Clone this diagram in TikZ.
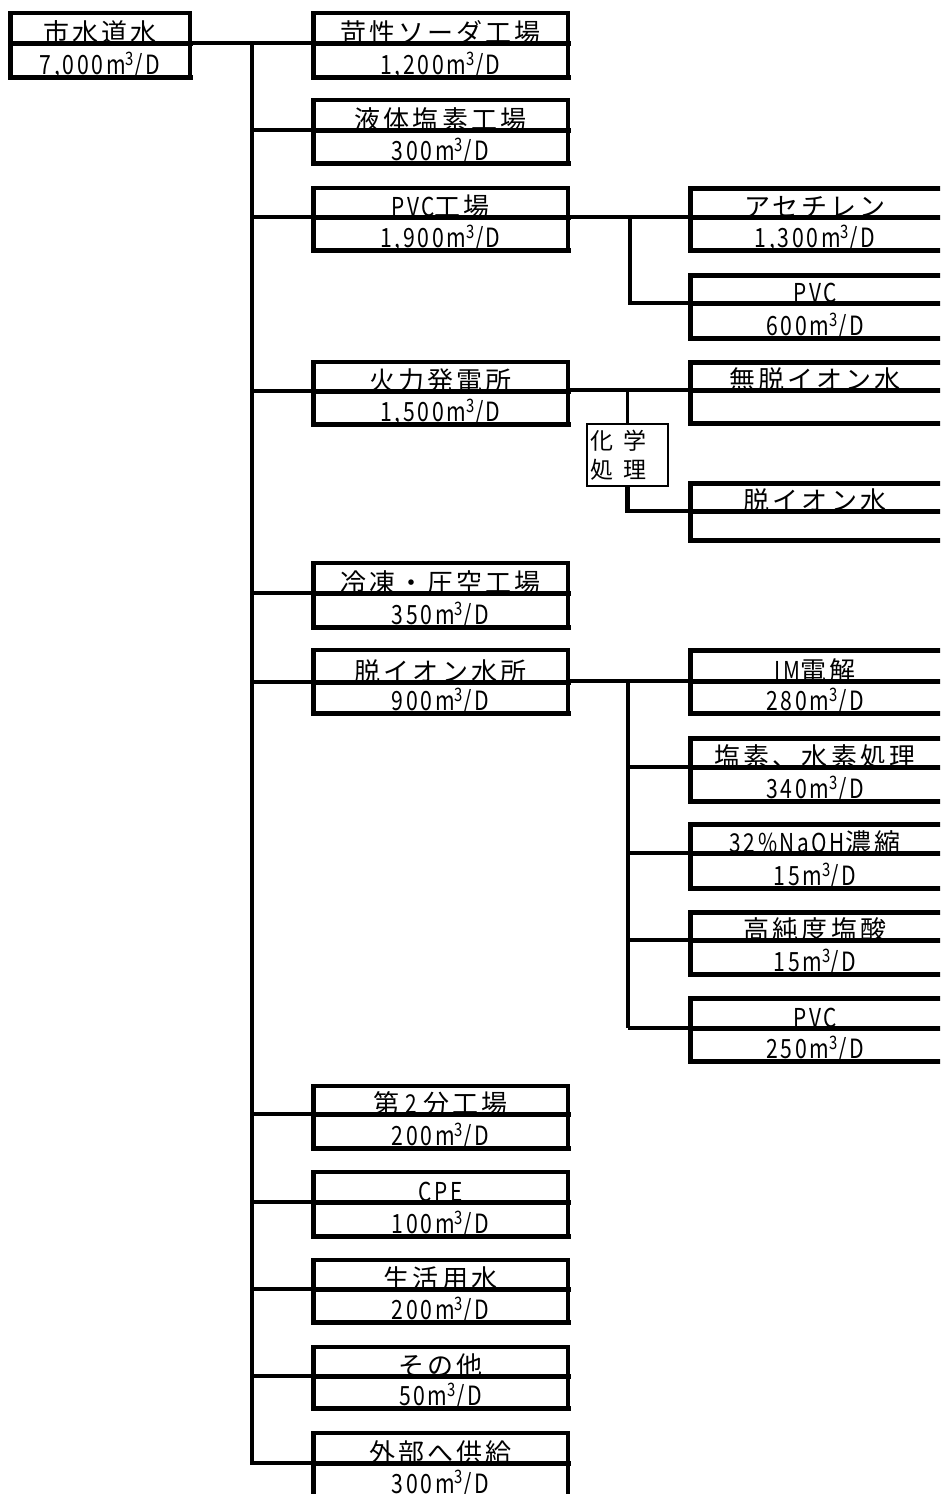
\documentclass[tikz,border=0pt]{standalone}
\usepackage{fontspec}
\newfontfamily\jpfont{Noto Sans CJK JP}[LetterSpace=12]
\newfontfamily\nmfont{Noto Sans CJK JP}[LetterSpace=10,FakeStretch=0.8]
\newfontfamily\jpplain{Noto Sans CJK JP}
\usetikzlibrary{calc}
\tikzset{
  lab/.style={inner sep=0pt, anchor=base, font=\jpfont\fontsize{26}{30}\selectfont},
  num/.style={inner sep=0pt, anchor=base, font=\nmfont\fontsize{26.5}{30}\selectfont},
  thk/.style={line width=5pt, line cap=rect},
  thn/.style={line width=3.5pt, line cap=rect},
  conn/.style={line width=4.5pt},
  connthin/.style={line width=3.5pt},
  chembox/.style={draw, line width=2pt, inner sep=0pt, minimum width=81pt, minimum height=62pt,
     text width=74pt, align=left, anchor=north west, font=\jpplain\fontsize{23}{29}\selectfont},
}
\def\toff{2.5}
% name, xl, xr, top, mid, bottom, top text, bottom text
\newcommand\boxtwo[8]{%
  \coordinate (#1-nw) at (#2,#4);
  \coordinate (#1-ne) at (#3,#4);
  \coordinate (#1-w) at (#2,#5);
  \coordinate (#1-e) at (#3,#5);
  \coordinate (#1-sw) at (#2,#6);
  \coordinate (#1-se) at (#3,#6);
  \node[lab] (#1-top) at ($(#1-w)!0.5!(#1-e)+(0,-1)$) {#7};
  \node[num] (#1-bot) at ($(#1-sw)!0.5!(#1-se)+(0,-\toff)$) {#8};
  \draw[thn] (#1-nw) -- (#1-ne) -- (#1-se);
  \draw[thk] (#1-nw) -- (#1-sw) -- (#1-se);
  \draw[thk] (#1-w) -- (#1-e);
}
\newcommand\boxopen[8]{%
  \coordinate (#1-nw) at (#2,#4);
  \coordinate (#1-ne) at (#3,#4);
  \coordinate (#1-w) at (#2,#5);
  \coordinate (#1-e) at (#3,#5);
  \coordinate (#1-sw) at (#2,#6);
  \coordinate (#1-se) at (#3,#6);
  \node[lab] (#1-top) at ($(#1-w)!0.5!(#1-e)+(0,-1)$) {#7};
  \node[num] (#1-bot) at ($(#1-sw)!0.5!(#1-se)+(0,-\toff)$) {#8};
  \draw[thk] (#1-ne) -- (#1-nw) -- (#1-sw) -- (#1-se);
  \draw[thk] (#1-w) -- (#1-e);
}
\newcommand\mcube{m\textsuperscript{3}/D}
\begin{document}
\begin{tikzpicture}[x=1pt,y=-1pt]
\useasboundingbox (0,0) rectangle (940,1494);
\clip (0,0) rectangle (940,1494);
\fill[white] (0,0) rectangle (940,1494);

% root
\boxtwo{root}{10}{190}{13}{43}{77}{市水道水}{7,000\mcube}

% level 1
\boxtwo{b1}{313}{568}{13}{43}{77}{苛性ソーダ工場}{1,200\mcube}
\boxtwo{b2}{313}{568}{100}{130}{163}{液体塩素工場}{300\mcube}
\boxtwo{b3}{313}{568}{188}{217}{250}{{\nmfont PVC}工場}{1,900\mcube}
\boxtwo{b4}{313}{568}{362}{391}{424}{火力発電所}{1,500\mcube}
\boxtwo{b5}{313}{568}{563}{593}{627}{冷凍・圧空工場}{350\mcube}
\boxtwo{b6}{313}{568}{650}{682}{713}{脱イオン水所}{900\mcube}
\boxtwo{b7}{313}{568}{1086}{1114}{1148}{第\kern6pt{\nmfont 2}\kern6pt分工場}{200\mcube}
\boxtwo{b8}{313}{568}{1172}{1202}{1236}{{\nmfont CPE}}{100\mcube}
\boxtwo{b9}{313}{568}{1260}{1289}{1322}{生活用水}{200\mcube}
\boxtwo{b10}{313}{568}{1347}{1376}{1408}{その他}{50\mcube}
\def\toff{8}
\boxtwo{b11}{313}{568}{1433}{1463}{1501}{外部へ供給}{300\mcube}
\def\toff{2.5}

% level 2
\boxopen{c1}{690}{940}{188}{217}{250}{アセチレン}{1,300\mcube}
\boxopen{c2}{690}{940}{275}{303}{338}{{\nmfont PVC}}{600\mcube}
\boxopen{n1}{690}{940}{362}{390}{423}{無脱イオン水}{}
\boxopen{n2}{690}{940}{483}{511}{540}{脱イオン水}{}
\boxopen{d1}{690}{940}{650}{681}{713}{{\nmfont IM}電解}{280\mcube}
\boxopen{d2}{690}{940}{738}{767}{801}{塩素、水素処理}{340\mcube}
\boxopen{d3}{690}{940}{824}{853}{888}{{\nmfont 32\%NaOH}濃縮}{15\mcube}
\boxopen{d4}{690}{940}{912}{940}{974}{高純度塩酸}{15\mcube}
\boxopen{d5}{690}{940}{998}{1028}{1061}{{\nmfont PVC}}{250\mcube}

% chemical treatment box
\node[chembox] (chem) at (586,423) {化\kern10pt学\\処\kern10pt理};

% trunk
\coordinate (tr0) at (252,43);
\draw[conn] (root-e) -- (b1-w);
\draw[conn] (tr0) -- (tr0 |- b11-w) -- (b11-w);
\foreach \b in {b2,b3,b4,b5,b6,b7,b8,b9,b10}{
  \draw[connthin] (tr0 |- \b-w) -- (\b-w);
}

% PVC branch
\coordinate (br1) at (630,217);
\draw[conn] (b3-e) -- (c1-w);
\draw[conn] (br1) -- (br1 |- c2-w) -- (c2-w);

% power plant branch
\draw[connthin] (b4-e |- n1-w) -- (n1-w);
\draw[connthin] (chem.north |- n1-w) -- (chem.north);
\draw[conn] (chem.south) -- (chem.south |- n2-w) -- (n2-w);

% de-ion branch
\coordinate (br3) at (628,681);
\draw[connthin] (b6-e |- d1-w) -- (d1-w);
\draw[conn] (br3) -- (br3 |- d5-w);
\foreach \d in {d2,d3,d4,d5}{
  \draw[connthin] (br3 |- \d-w) -- (\d-w);
}
\end{tikzpicture}
\end{document}
